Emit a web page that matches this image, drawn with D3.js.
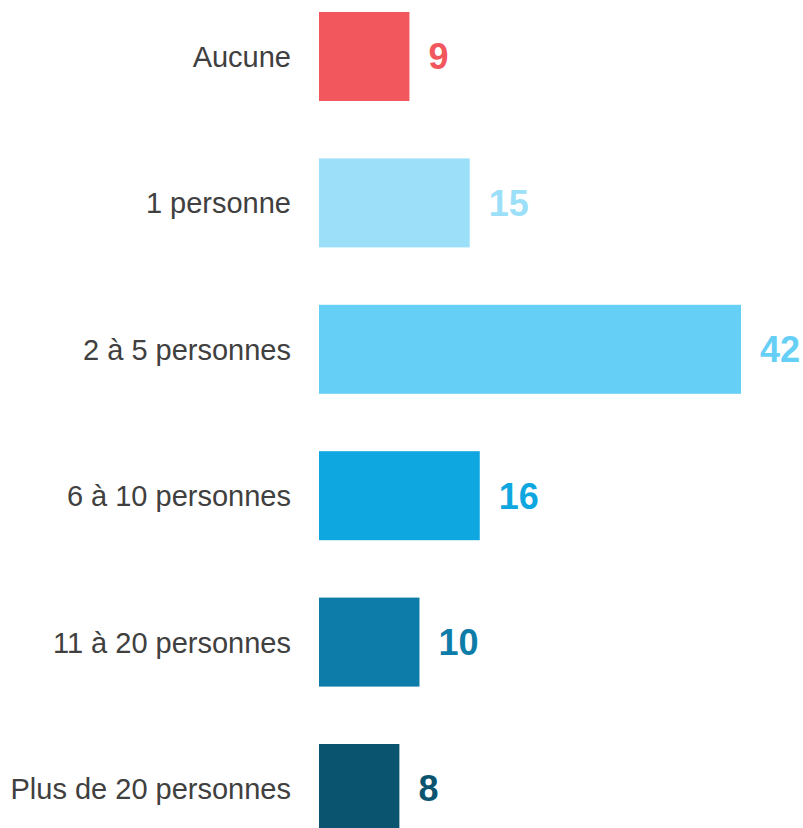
<!DOCTYPE html>
<html>
<head>
<meta charset="utf-8">
<script src="https://cdn.jsdelivr.net/npm/d3@7"></script>
<style>
  body { margin: 0; background: #fff; }
  svg { display: block; }
</style>
</head>
<body>
<script>
  var categories = ["Aucune", "1 personne", "2 à 5 personnes", "6 à 10 personnes", "11 à 20 personnes", "Plus de 20 personnes"];
  var values = [9, 15, 42, 16, 10, 8];
  var colors = ["#f1575c", "#9cdff8", "#65cff5", "#0fa7e0", "#0d7ca8", "#0a546f"];

  var w = 803, h = 828;

  var svg = d3.select("body").append("svg")
    .attr("width", w)
    .attr("height", h);

  var x = d3.scaleLinear()
    .domain([0, 42])
    .range([319, 741]);

  var y = d3.scaleBand()
    .domain(categories)
    .range([12, 833])
    .paddingInner(0.392)
    .paddingOuter(0);

  var rows = categories.map(function(c, i) { return {cat: c, val: values[i], col: colors[i]}; });

  //bars
  svg.selectAll("rect")
    .data(rows)
    .enter().append("rect")
    .attr("x", x(0))
    .attr("y", function(d) { return y(d.cat); })
    .attr("width", function(d) { return x(d.val) - x(0); })
    .attr("height", y.bandwidth())
    .attr("fill", function(d) { return d.col; });

  //category labels
  svg.selectAll("text.cat")
    .data(rows)
    .enter().append("text")
    .attr("class", "cat")
    .attr("x", 291)
    .attr("y", function(d) { return y(d.cat) + y.bandwidth() / 2; })
    .attr("dy", "0.36em")
    .attr("text-anchor", "end")
    .style("font-family", "'Liberation Sans', Arial, sans-serif")
    .attr("font-size", "29px")
    .attr("fill", "#404040")
    .text(function(d) { return d.cat; });

  //value labels
  svg.selectAll("text.val")
    .data(rows)
    .enter().append("text")
    .attr("class", "val")
    .attr("x", function(d) { return x(d.val) + 19; })
    .attr("y", function(d) { return y(d.cat) + y.bandwidth() / 2; })
    .attr("dy", "0.36em")
    .style("font-family", "'Liberation Sans', Arial, sans-serif")
    .attr("font-weight", "bold")
    .attr("font-size", "36px")
    .attr("fill", function(d) { return d.col; })
    .text(function(d) { return d.val; });
</script>
</body>
</html>
